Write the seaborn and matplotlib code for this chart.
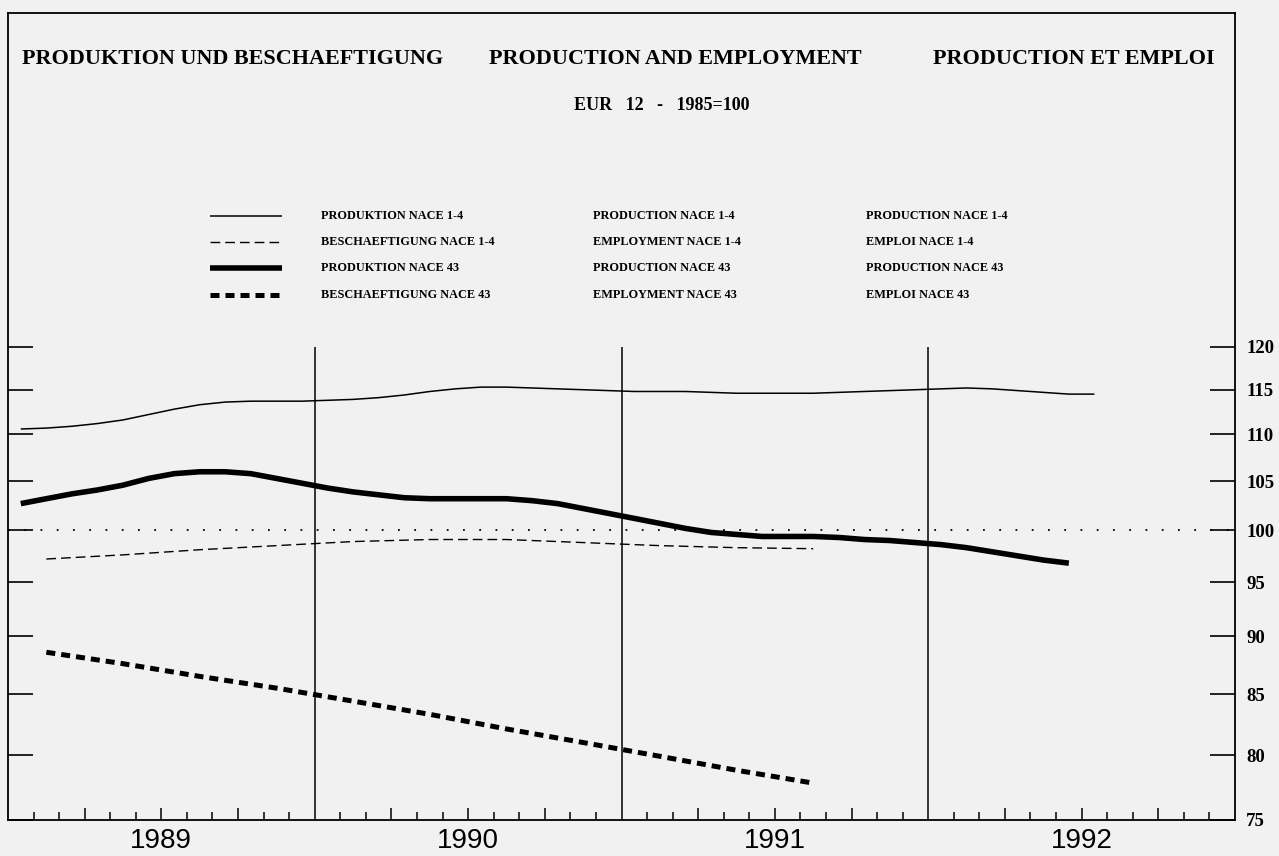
import numpy as np
import pandas as pd
import matplotlib.pyplot as plt
import seaborn as sns
from matplotlib.lines import Line2D
from matplotlib.ticker import NullLocator


# Data (EUR 12, 1985=100)

# monthly, Jan 1989 - Jul 1992
prod_nace14 = [110.6, 110.7, 110.9, 111.2, 111.6, 112.2, 112.8, 113.3, 113.6, 113.7,
               113.7, 113.7, 113.8, 113.9, 114.1, 114.4, 114.8, 115.1, 115.3, 115.3,
               115.2, 115.1, 115.0, 114.9, 114.8, 114.8, 114.8, 114.7, 114.6, 114.6,
               114.6, 114.6, 114.7, 114.8, 114.9, 115.0, 115.1, 115.2, 115.1, 114.9,
               114.7, 114.5, 114.5]

# monthly, Jan 1989 - Jun 1992
prod_nace43 = [102.7, 103.2, 103.7, 104.1, 104.6, 105.3, 105.8, 106.0, 106.0, 105.8,
               105.3, 104.8, 104.3, 103.9, 103.6, 103.3, 103.2, 103.2, 103.2, 103.2,
               103.0, 102.7, 102.2, 101.7, 101.2, 100.7, 100.2, 99.8, 99.6, 99.4,
               99.4, 99.4, 99.3, 99.1, 99.0, 98.8, 98.6, 98.3, 97.9, 97.5,
               97.1, 96.8]

# quarterly, Q1 1989 - Q3 1991
emp_nace14 = [97.2, 97.6, 98.1, 98.5, 98.9, 99.1, 99.1, 98.8, 98.5, 98.3, 98.2]
emp_nace43 = [88.6, 87.6, 86.5, 85.5, 84.4, 83.3, 82.1, 81.0, 79.9, 78.8, 77.8]

start_year = 1989
years = [1989, 1990, 1991, 1992]
y_ticks = [75, 80, 85, 90, 95, 100, 105, 110, 115, 120]

titles = ["PRODUKTION UND BESCHAEFTIGUNG", "PRODUCTION AND EMPLOYMENT", "PRODUCTION ET EMPLOI"]
subtitle = "EUR   12   -   1985=100"
legend_de = ["PRODUKTION NACE 1-4", "BESCHAEFTIGUNG NACE 1-4", "PRODUKTION NACE 43", "BESCHAEFTIGUNG NACE 43"]
legend_en = ["PRODUCTION NACE 1-4", "EMPLOYMENT NACE 1-4", "PRODUCTION NACE 43", "EMPLOYMENT NACE 43"]
legend_fr = ["PRODUCTION NACE 1-4", "EMPLOI NACE 1-4", "PRODUCTION NACE 43", "EMPLOI NACE 43"]


# monthly points sit mid-month, quarterly points mid-quarter
def monthly(vals):
    return pd.DataFrame({"t": start_year + (np.arange(len(vals)) + 0.5) / 12, "v": vals})


def quarterly(vals):
    return pd.DataFrame({"t": start_year + (np.arange(len(vals)) * 3 + 1.5) / 12, "v": vals})


df_p14 = monthly(prod_nace14)
df_p43 = monthly(prod_nace43)
df_e14 = quarterly(emp_nace14)
df_e43 = quarterly(emp_nace43)


# Plot

bg = "#f1f1f1"
sns.set_theme(style="white", rc={"axes.edgecolor": "black", "axes.linewidth": 1.3,
                                 "axes.facecolor": bg, "figure.facecolor": bg,
                                 "text.color": "black", "xtick.color": "black",
                                 "ytick.color": "black"})
plt.rcParams["font.family"] = ["Liberation Serif", "DejaVu Serif"]

fig = plt.figure(figsize=(12.79, 8.56), dpi=100)
ax = fig.add_axes([8 / 1279, 1 - 820 / 856, 1227 / 1279, 807 / 856])

styles = [
    (df_p14, 1.1, "-"),
    (df_e14, 1.0, (0, (7, 3.6))),
    (df_p43, 4.0, "-"),
    (df_e43, 3.6, (0, (1.8, 1.2))),
]
for d, lw, ls in styles:
    sns.lineplot(data=d, x="t", y="v", ax=ax, color="black", linewidth=lw,
                 linestyle=ls, errorbar=None, legend=False,
                 solid_capstyle="butt", dash_capstyle="butt")

# 100 reference line and year separators
ax.axhline(100, color="black", lw=1.3, linestyle=(0, (1, 8)))
ax.vlines(years[1:], 75, 120, color="black", lw=1.1)

ax.set_yscale("log")
ax.set_ylim(75, 167.2)
ax.set_xlim(start_year, start_year + len(years))
ax.yaxis.set_minor_locator(NullLocator())
ax.set_yticks(y_ticks, labels=[str(v) for v in y_ticks])
ax.tick_params(axis="y", which="major", left=True, right=True, labelleft=False,
               labelright=True, direction="in", length=18, width=1.2, pad=8,
               labelsize=13.5)
for lab in ax.get_yticklabels():
    lab.set_fontweight("bold")

quarters = np.arange(start_year, start_year + len(years), 0.25)
quarters = quarters[(quarters % 1) != 0]
ax.set_xticks(quarters, labels=[str(int(q)) if q % 1 == 0.5 else "" for q in quarters])
months = np.arange(start_year, start_year + len(years), 1 / 12)
ax.set_xticks([m for m in months if abs(m * 4 - round(m * 4)) > 1e-6], minor=True)
ax.tick_params(axis="x", which="major", bottom=True, top=False, direction="in",
               length=9, width=1.1, pad=6, labelsize=20)
ax.tick_params(axis="x", which="minor", bottom=True, top=False, direction="in",
               length=6, width=1.1)
for lab in ax.get_xticklabels():
    lab.set_fontfamily(["Liberation Sans", "DejaVu Sans"])

ax.set_xlabel("")
ax.set_ylabel("")
for s in ax.spines.values():
    s.set_visible(True)

# titles
fig.text(22 / 1279, 1 - 59 / 856, titles[0], ha="left", va="center", fontsize=15.9, fontweight="bold")
fig.text(489 / 1279, 1 - 59 / 856, titles[1], ha="left", va="center", fontsize=15.9, fontweight="bold")
fig.text(1215 / 1279, 1 - 59 / 856, titles[2], ha="right", va="center", fontsize=15.9, fontweight="bold")
fig.text(662 / 1279, 1 - 105 / 856, subtitle, ha="center", va="center", fontsize=13, fontweight="bold")

# legend block
rows = [216, 242, 268, 295]
for (d, lw, ls), ry, de, en, fr in zip(styles, rows, legend_de, legend_en, legend_fr):
    yy = 1 - ry / 856
    fig.add_artist(Line2D([210 / 1279, 282 / 1279], [yy, yy], color="black", lw=lw,
                          linestyle=ls, solid_capstyle="butt", dash_capstyle="butt"))
    for xx, txt in zip([321, 593, 866], [de, en, fr]):
        fig.text(xx / 1279, yy, txt, ha="left", va="center", fontsize=8.8, fontweight="bold")

fig.savefig("out.png", dpi=100, facecolor=bg)
